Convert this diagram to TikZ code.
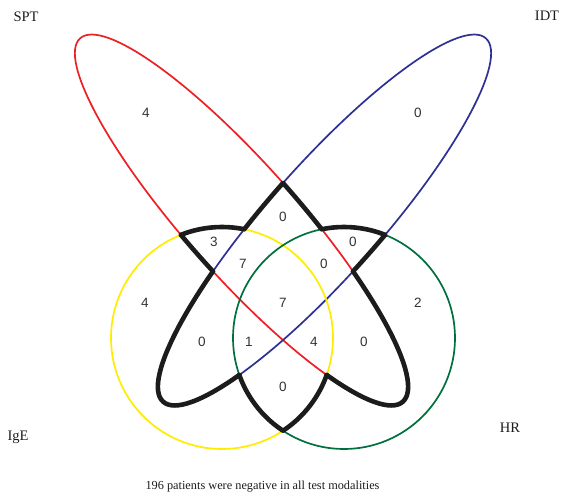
\documentclass[tikz,border=0pt]{standalone}
\usepackage{fontspec}
\setmainfont{Liberation Serif}
\newfontfamily\numfont{Liberation Sans}
\definecolor{cS}{RGB}{237,32,36}
\definecolor{cT}{RGB}{46,49,146}
\definecolor{cY}{RGB}{255,237,0}
\definecolor{cG}{RGB}{0,112,60}
\definecolor{cK}{RGB}{28,28,28}
\definecolor{cNum}{RGB}{50,50,50}
\tikzset{
  num/.style={font=\numfont\fontsize{13.5}{15}\selectfont, text=cNum, inner sep=0pt},
  lab/.style={font=\fontsize{14.5}{16}\selectfont, text=cK, inner sep=0pt},
  corner/.style={fill=cK},
}
% set outlines as basic-layer paths (canvas coordinates, y upwards)
\def\pS{\pgfpathellipse{\pgfpoint{241.5pt}{-220pt}}{\pgfpoint{161.33pt}{-181.72pt}}{\pgfpoint{41.58pt}{36.91pt}}}
\def\pT{\pgfpathellipse{\pgfpoint{324.5pt}{-220pt}}{\pgfpoint{-161.33pt}{-181.72pt}}{\pgfpoint{-41.58pt}{36.91pt}}}
\def\pY{\pgfpathcircle{\pgfpoint{222pt}{-338pt}}{111pt}}
\def\pG{\pgfpathcircle{\pgfpoint{344pt}{-338pt}}{111pt}}
\newcommand\inset[1]{\csname p#1\endcsname\pgfusepath{clip}}
\newcommand\outset[1]{\pgfpathrectanglecorners{\pgfpoint{-2000pt}{-2000pt}}{\pgfpoint{2000pt}{2000pt}}\csname p#1\endcsname\pgfseteorule\pgfusepath{clip}}
\newcommand\strk[3]{\begin{pgfscope}\pgfsetlinewidth{#2}\pgfsetstrokecolor{#3}\csname p#1\endcsname\pgfusepath{stroke}\end{pgfscope}}
\newcommand\seg[4]{\begin{pgfscope}\inset{#2}\outset{#3}\outset{#4}\strk{#1}{4.6pt}{cK}\end{pgfscope}}
\begin{document}
\begin{tikzpicture}[x=1pt,y=-1pt]
\useasboundingbox[fill=white] (0,0) rectangle (563,494);
% set outlines
\strk{S}{1.7pt}{cS}
\strk{T}{1.7pt}{cT}
\strk{Y}{1.7pt}{cY}
\strk{G}{1.7pt}{cG}
% boundary of the region covered by at least two sets
\seg{S}{T}{Y}{G}\seg{S}{Y}{T}{G}\seg{S}{G}{T}{Y}
\seg{T}{S}{Y}{G}\seg{T}{Y}{S}{G}\seg{T}{G}{S}{Y}
\seg{Y}{S}{T}{G}\seg{Y}{T}{S}{G}\seg{Y}{G}{S}{T}
\seg{G}{S}{T}{Y}\seg{G}{T}{S}{Y}\seg{G}{Y}{S}{T}
% corners
\foreach \p in {(283,183),(180.9,234.9),(244.4,229.3),(213.1,271.4),(239.3,374.9),(283,430.7),(385.1,234.9),(321.6,229.3),(352.9,271.4),(326.7,374.9)}
  \fill[corner] \p circle (2.3pt);
% labels
\node[lab] (lSPT) at (26,17) {SPT};
\node[lab] (lIDT) at (547,16) {IDT};
\node[lab] (lIgE) at (18,437) {IgE};
\node[lab] (lHR) at (510,428) {HR};
\node[font=\fontsize{12.3}{14}\selectfont, text=cK, inner sep=0pt] (cap) at (262.5,487) {196 patients were negative in all test modalities};
% counts
\node[num] (n1) at (146,113) {4};
\node[num] (n2) at (418,113) {0};
\node[num] (n3) at (283,217) {0};
\node[num] (n4) at (214,242) {3};
\node[num] (n5) at (353,242) {0};
\node[num] (n6) at (243,264) {7};
\node[num] (n7) at (324,264) {0};
\node[num] (n8) at (145,303) {4};
\node[num] (n9) at (283,303) {7};
\node[num] (n10) at (418,303) {2};
\node[num] (n11) at (202,342) {0};
\node[num] (n12) at (249,342) {1};
\node[num] (n13) at (314,342) {4};
\node[num] (n14) at (364,342) {0};
\node[num] (n15) at (283,387) {0};
\end{tikzpicture}
\end{document}
